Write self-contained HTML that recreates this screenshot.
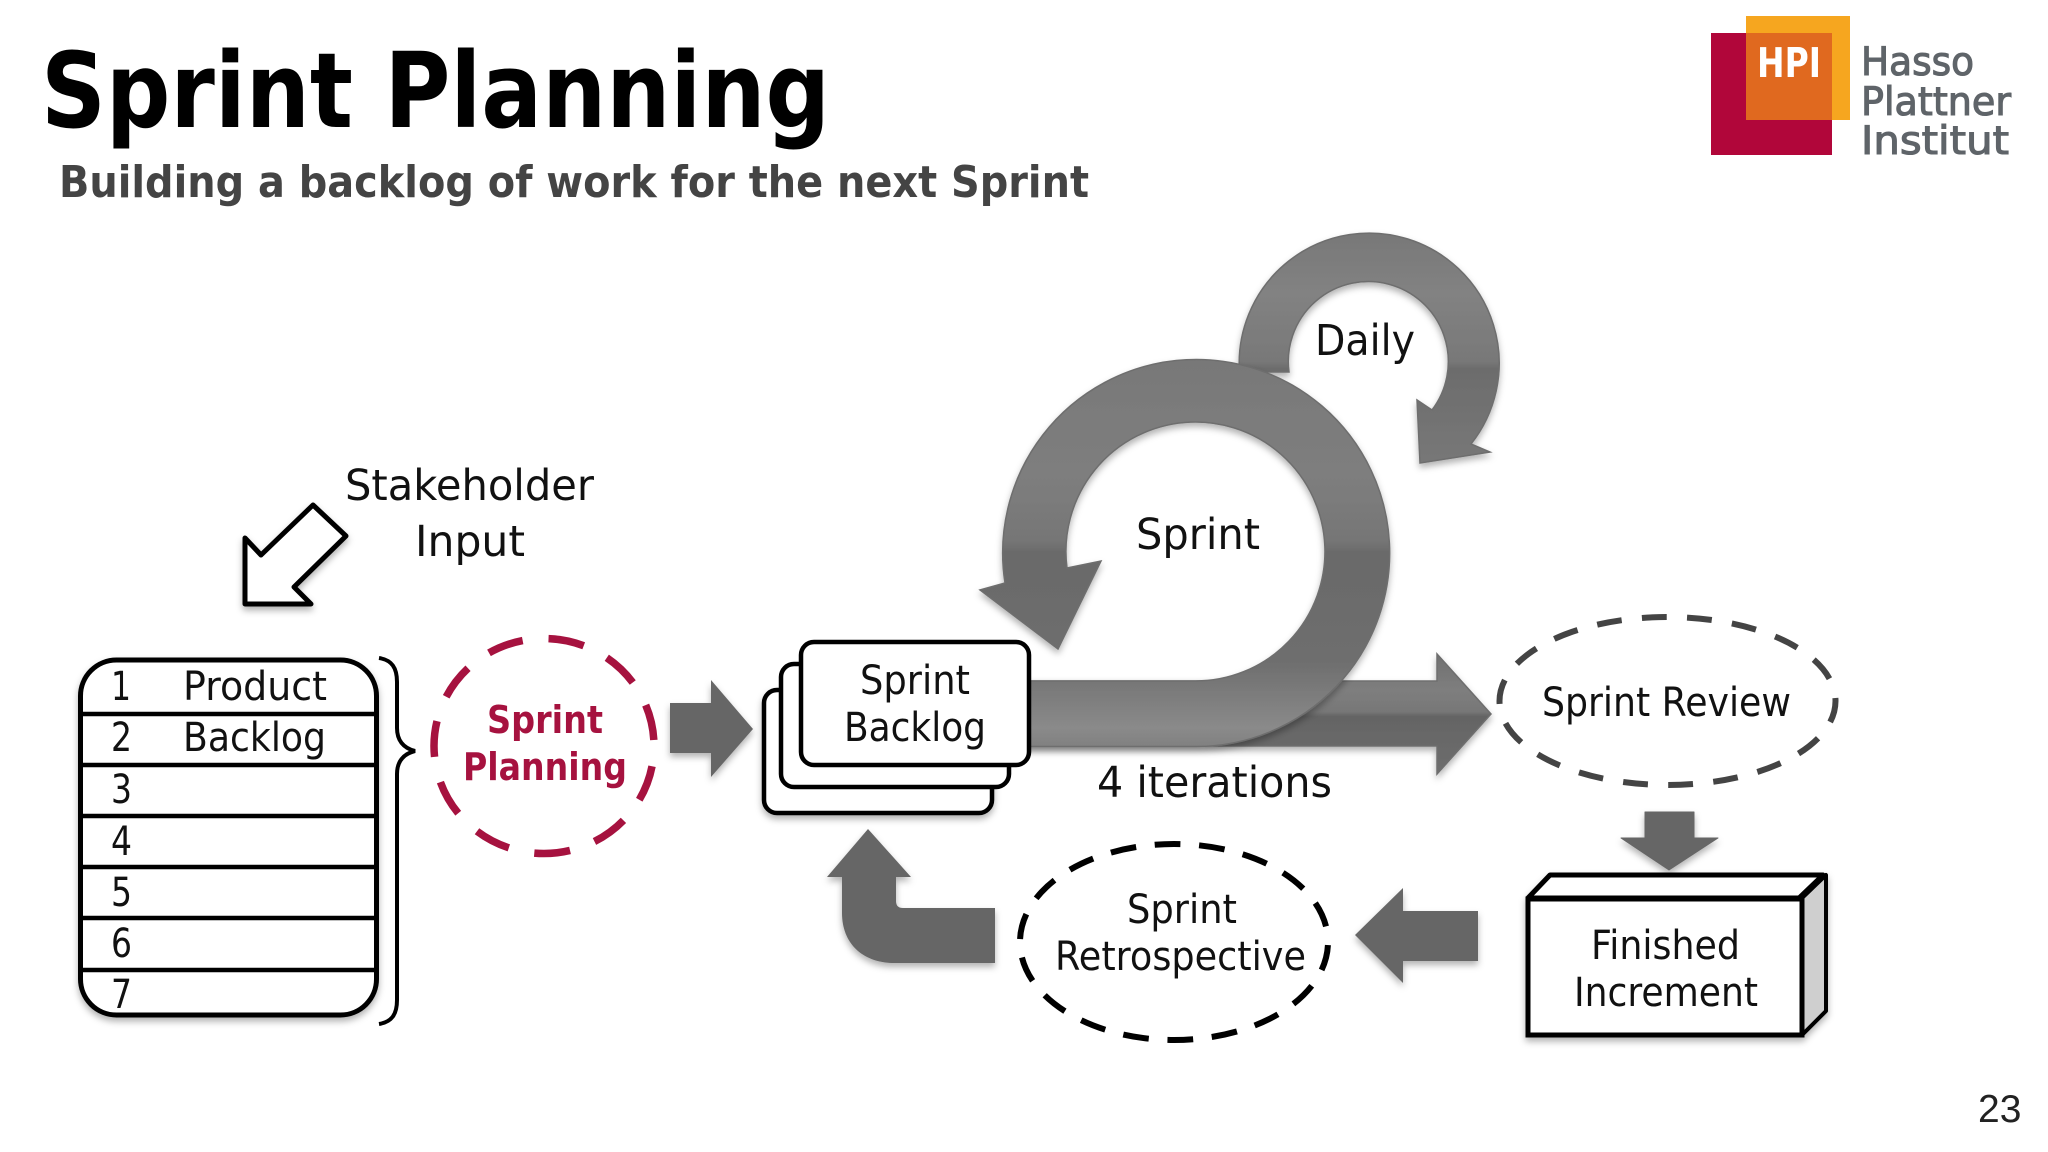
<!DOCTYPE html>
<html><head><meta charset="utf-8"><title>Sprint Planning</title>
<style>html,body{margin:0;padding:0;background:#fff}svg{display:block}text{font-family:"DejaVu Sans","Liberation Sans",sans-serif;fill:#111}</style></head>
<body>
<svg width="2048" height="1152" viewBox="0 0 2048 1152" xmlns="http://www.w3.org/2000/svg">
<defs>
<filter id="sh" x="-10%" y="-10%" width="120%" height="125%"><feDropShadow dx="0" dy="4" stdDeviation="3.5" flood-color="#000" flood-opacity=".3"/></filter>
<linearGradient id="gs" gradientUnits="userSpaceOnUse" x1="0" y1="357" x2="0" y2="747">
<stop offset="0" stop-color="#787878"/><stop offset=".3" stop-color="#7e7e7e"/><stop offset=".47" stop-color="#767676"/><stop offset=".5" stop-color="#6a6a6a"/><stop offset=".78" stop-color="#6e6e6e"/><stop offset=".95" stop-color="#8a8a8a"/><stop offset="1" stop-color="#808080"/></linearGradient>
<linearGradient id="gd" gradientUnits="userSpaceOnUse" x1="0" y1="235" x2="0" y2="465">
<stop offset="0" stop-color="#787878"/><stop offset=".25" stop-color="#828282"/><stop offset=".55" stop-color="#787878"/><stop offset=".58" stop-color="#6c6c6c"/><stop offset="1" stop-color="#787878"/></linearGradient>
<linearGradient id="gb" gradientUnits="userSpaceOnUse" x1="0" y1="654" x2="0" y2="774">
<stop offset="0" stop-color="#707070"/><stop offset=".3" stop-color="#7e7e7e"/><stop offset=".48" stop-color="#777"/><stop offset=".52" stop-color="#646464"/><stop offset="1" stop-color="#6e6e6e"/></linearGradient>
</defs>

<!-- Header -->
<text x="41" y="127" font-size="104" font-weight="700" style="fill:#000" textLength="789" lengthAdjust="spacingAndGlyphs">Sprint Planning</text>
<text x="59" y="197" font-size="44" font-weight="700" style="fill:#444" textLength="1030" lengthAdjust="spacingAndGlyphs">Building a backlog of work for the next Sprint</text>

<!-- Logo -->
<rect x="1711" y="33" width="121" height="122" fill="#b1063a"/>
<rect x="1746" y="16" width="104" height="104" fill="#f6a61f"/>
<rect x="1746" y="33" width="86" height="87" fill="#e0691f"/>
<text x="1757" y="77" font-size="41" font-weight="700" style="fill:#fff" textLength="64" lengthAdjust="spacingAndGlyphs">HPI</text>
<text x="1861" y="75" font-size="39" style="fill:#5f6469;stroke:#5f6469;stroke-width:1.1" textLength="113" lengthAdjust="spacingAndGlyphs">Hasso</text>
<text x="1861" y="115" font-size="39" style="fill:#5f6469;stroke:#5f6469;stroke-width:1.1" textLength="150" lengthAdjust="spacingAndGlyphs">Plattner</text>
<text x="1861" y="154" font-size="39" style="fill:#5f6469;stroke:#5f6469;stroke-width:1.1" textLength="148" lengthAdjust="spacingAndGlyphs">Institut</text>

<!-- Daily loop -->
<path filter="url(#sh)" d="M1239.5 372 A130 130 0 1 1 1471 444 L1490 452 L1420 463 L1417 400 L1432 410 A80 80 0 1 0 1289 372 Z" fill="url(#gd)" stroke="#6e6e6e" stroke-width="1.5"/>
<!-- Back arrow -->
<path filter="url(#sh)" d="M1020 681 L1437 681 L1437 654 L1491 714 L1437 774 L1437 746 L1020 746 Z" fill="url(#gb)" stroke="#6e6e6e" stroke-width="1.5"/>
<!-- Sprint loop -->
<path filter="url(#sh)" d="M1020 681 L1195 681 A129.5 129.5 0 1 0 1067 568 L1101 561 L1058 649 L980 590 L1005 583 A193.5 193.5 0 1 1 1196 746.5 L1020 746.5 Z" fill="url(#gs)" stroke="#6e6e6e" stroke-width="1.5"/>

<text x="1315" y="355" font-size="43" textLength="100" lengthAdjust="spacingAndGlyphs">Daily</text>
<text x="1136" y="549" font-size="43" textLength="124" lengthAdjust="spacingAndGlyphs">Sprint</text>
<text x="1097" y="797" font-size="43" textLength="235" lengthAdjust="spacingAndGlyphs">4 iterations</text>

<!-- Stakeholder -->
<path filter="url(#sh)" d="M313 505 L346 536 L294 587 L311 604 L245 604 L245 538 L261 555 Z" fill="#fff" stroke="#000" stroke-width="5" stroke-linejoin="round"/>
<text x="345" y="500" font-size="43" textLength="249" lengthAdjust="spacingAndGlyphs">Stakeholder</text>
<text x="415" y="556" font-size="43" textLength="110" lengthAdjust="spacingAndGlyphs">Input</text>

<!-- Product backlog table -->
<rect x="80.5" y="660" width="296" height="355" rx="36" ry="36" fill="#fff" stroke="#000" stroke-width="5" filter="url(#sh)"/>
<g stroke="#000" stroke-width="4.5">
<line x1="80" x2="377" y1="714" y2="714"/><line x1="80" x2="377" y1="765" y2="765"/><line x1="80" x2="377" y1="816" y2="816"/>
<line x1="80" x2="377" y1="867" y2="867"/><line x1="80" x2="377" y1="918" y2="918"/><line x1="80" x2="377" y1="970" y2="970"/>
</g>
<g font-size="40">
<text x="111" y="700" textLength="20" lengthAdjust="spacingAndGlyphs">1</text>
<text x="111" y="751" textLength="21" lengthAdjust="spacingAndGlyphs">2</text>
<text x="111" y="803" textLength="21" lengthAdjust="spacingAndGlyphs">3</text>
<text x="111" y="855" textLength="21" lengthAdjust="spacingAndGlyphs">4</text>
<text x="111" y="906" textLength="21" lengthAdjust="spacingAndGlyphs">5</text>
<text x="111" y="957" textLength="21" lengthAdjust="spacingAndGlyphs">6</text>
<text x="111" y="1008" textLength="21" lengthAdjust="spacingAndGlyphs">7</text>
<text x="183" y="700" textLength="144" lengthAdjust="spacingAndGlyphs">Product</text>
<text x="183" y="751" textLength="143" lengthAdjust="spacingAndGlyphs">Backlog</text>
</g>
<!-- Brace -->
<path d="M379 658 C392 660 397 668 397 682 L397 728 C397 740 403 748 415 751 C403 754 397 762 397 774 L397 1000 C397 1014 392 1022 379 1024" fill="none" stroke="#000" stroke-width="4"/>

<!-- Sprint Planning circle -->
<ellipse cx="544" cy="746" rx="110" ry="107.5" fill="none" stroke="#a6123f" stroke-width="7.5" pathLength="360" stroke-dasharray="19 13.73" stroke-dashoffset="22"/>
<text x="487" y="733" font-size="38" font-weight="700" style="fill:#a6123f" textLength="116" lengthAdjust="spacingAndGlyphs">Sprint</text>
<text x="463" y="780" font-size="38" font-weight="700" style="fill:#a6123f" textLength="164" lengthAdjust="spacingAndGlyphs">Planning</text>

<!-- Gray arrow to backlog -->
<path filter="url(#sh)" d="M670 703 L711 703 L711 680 L753 729 L711 777 L711 753 L670 753 Z" fill="#666"/>

<!-- Sprint backlog stack -->
<rect x="764" y="690" width="228" height="123" rx="13" fill="#fff" stroke="#000" stroke-width="4.5" filter="url(#sh)"/>
<rect x="781" y="664" width="228" height="123" rx="13" fill="#fff" stroke="#000" stroke-width="4.5"/>
<rect x="801" y="642" width="228" height="123" rx="13" fill="#fff" stroke="#000" stroke-width="4.5"/>
<text x="860" y="694" font-size="40" textLength="110" lengthAdjust="spacingAndGlyphs">Sprint</text>
<text x="844" y="741" font-size="40" textLength="142" lengthAdjust="spacingAndGlyphs">Backlog</text>

<!-- Sprint review -->
<ellipse cx="1667.5" cy="701" rx="168" ry="84" fill="none" stroke="#444" stroke-width="6" pathLength="180" stroke-dasharray="5.5 4.5" stroke-dashoffset="0.65"/>
<text x="1542" y="716" font-size="40" textLength="249" lengthAdjust="spacingAndGlyphs">Sprint Review</text>

<!-- Down arrow -->
<path filter="url(#sh)" d="M1645 812 L1694 812 L1694 838 L1718 838 L1669 870 L1621 838 L1645 838 Z" fill="#666" stroke="#666" stroke-width="1" stroke-linejoin="round"/>

<!-- Finished increment -->
<g filter="url(#sh)" transform="translate(-3 0)">
<path d="M1531 898 L1553 875 L1826 875 L1802 898 Z" fill="#fff" stroke="#000" stroke-width="5" stroke-linejoin="round"/>
<path d="M1805 898 L1829 875 L1829 1011 L1805 1035 Z" fill="#cfcfcf" stroke="#000" stroke-width="4" stroke-linejoin="round"/>
<rect x="1531" y="899" width="274" height="136" fill="#fff" stroke="#000" stroke-width="5"/>
</g>
<text x="1591" y="959" font-size="40" textLength="149" lengthAdjust="spacingAndGlyphs">Finished</text>
<text x="1574" y="1006" font-size="40" textLength="184" lengthAdjust="spacingAndGlyphs">Increment</text>

<!-- Left arrow -->
<path filter="url(#sh)" d="M1478 911 L1403 911 L1403 888 L1355 935 L1403 983 L1403 961 L1478 961 Z" fill="#666"/>

<!-- Retrospective -->
<ellipse cx="1174" cy="942" rx="154" ry="98" fill="none" stroke="#000" stroke-width="6" pathLength="180" stroke-dasharray="5.8 4.2" stroke-dashoffset="-0.7"/>
<text x="1127" y="923" font-size="40" textLength="110" lengthAdjust="spacingAndGlyphs">Sprint</text>
<text x="1055" y="970" font-size="40" textLength="251" lengthAdjust="spacingAndGlyphs">Retrospective</text>

<!-- Bent arrow -->
<path filter="url(#sh)" transform="translate(-3 -2)" d="M998 910 L906 910 Q899 910 899 903 L899 879 L914 879 L871 831 L830 879 L845 879 L845 915 C845 945 865 964 895 965 L998 965 Z" fill="#666"/>

<!-- Page number -->
<text x="1978" y="1122" font-size="39" style="font-family:'Liberation Sans',sans-serif;fill:#222">23</text>
</svg>
</body></html>
